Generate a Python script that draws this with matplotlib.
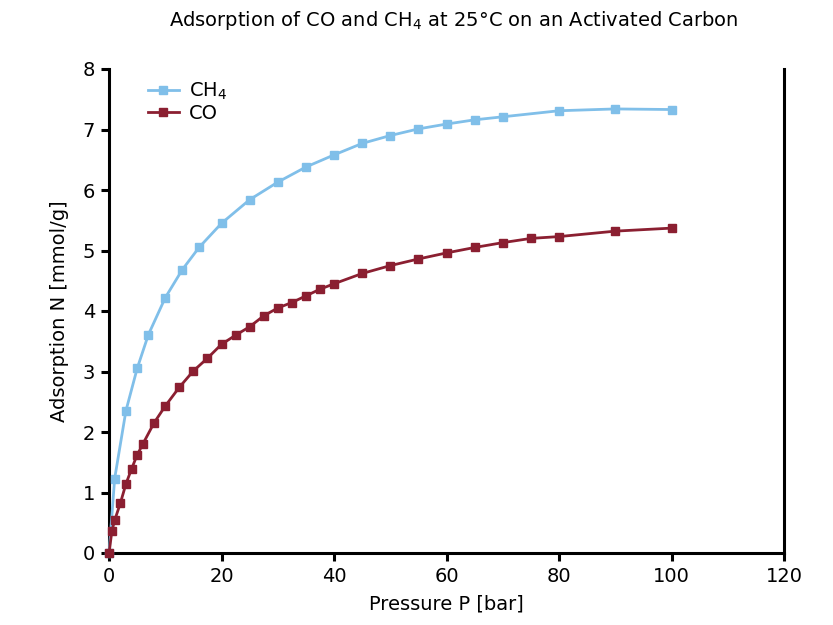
import matplotlib.pyplot as plt

# CH4 isotherm
ch4_p = [0, 1, 3, 5, 7, 10, 13, 16, 20, 25, 30, 35, 40, 45, 50, 55, 60, 65, 70, 80, 90, 100]
ch4_n = [0, 1.23, 2.35, 3.05, 3.61, 4.22, 4.68, 5.05, 5.45, 5.84, 6.13, 6.38, 6.58, 6.77, 6.90,
         7.01, 7.09, 7.16, 7.21, 7.31, 7.34, 7.33]

# CO isotherm
co_p = [0, 0.5, 1, 2, 3, 4, 5, 6, 8, 10, 12.5, 15, 17.5, 20, 22.5, 25, 27.5, 30, 32.5, 35,
        37.5, 40, 45, 50, 55, 60, 65, 70, 75, 80, 90, 100]
co_n = [0, 0.36, 0.54, 0.82, 1.14, 1.39, 1.62, 1.80, 2.15, 2.43, 2.74, 3.01, 3.22, 3.45, 3.60,
        3.74, 3.92, 4.05, 4.14, 4.25, 4.36, 4.45, 4.62, 4.75, 4.86, 4.96, 5.05, 5.13, 5.20,
        5.23, 5.32, 5.37]

ch4_color = '#80BFE9'
co_color = '#8B1F31'

fig = plt.figure(figsize=(8.33, 6.25), dpi=100)
ax = fig.add_axes([0.1309, 0.1152, 0.8103, 0.7744])

ax.plot(ch4_p, ch4_n, color=ch4_color, lw=2, marker='s', ms=6, label='CH$_4$',
        zorder=3, clip_on=False)
ax.plot(co_p, co_n, color=co_color, lw=2, marker='s', ms=6, label='CO',
        zorder=4, clip_on=False)

ax.set_xlim(0, 120)
ax.set_ylim(0, 8)
ax.set_xticks(range(0, 121, 20))
ax.set_yticks(range(0, 9))
ax.tick_params(direction='out', length=6, width=2.2, labelsize=14, pad=4)

ax.spines['top'].set_visible(False)
for s in ['left', 'bottom', 'right']:
    ax.spines[s].set_linewidth(2.2)

ax.set_xlabel('Pressure P [bar]', fontsize=14, labelpad=6)
ax.set_ylabel('Adsorption N [mmol/g]', fontsize=14, labelpad=10)
fig.text(0.545, 0.967, 'Adsorption of CO and CH$_4$ at 25°C on an Activated Carbon',
         ha='center', va='center', fontsize=14)

ax.legend(loc='upper left', bbox_to_anchor=(0.04, 1.0), frameon=False, fontsize=14,
          handlelength=1.6, handletextpad=0.5, labelspacing=0.1, borderaxespad=0.2)

fig.savefig('out.png', dpi=100)
